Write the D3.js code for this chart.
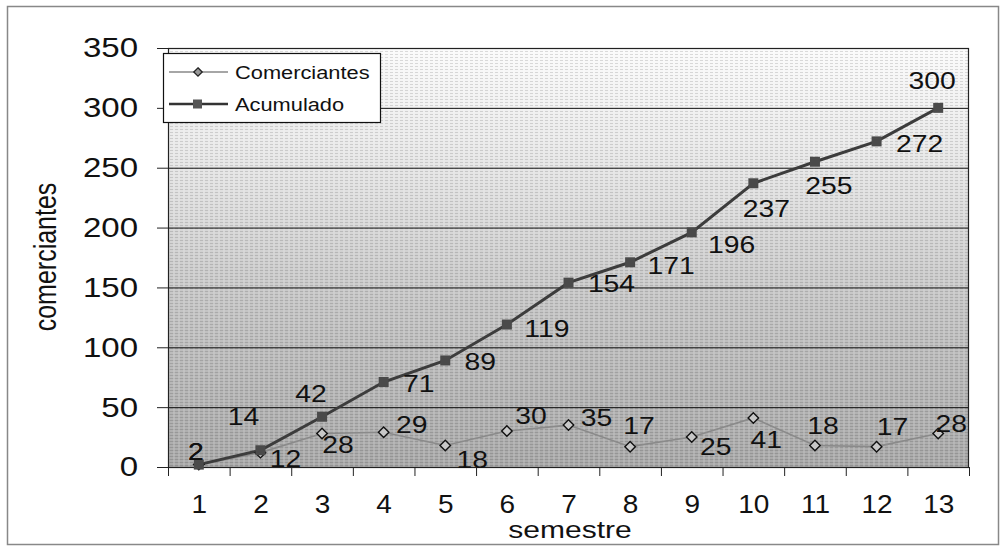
<!DOCTYPE html>
<html><head><meta charset="utf-8">
<script src="https://cdn.jsdelivr.net/npm/d3@7"></script>
<style>body{margin:0;background:#fff}svg{display:block}text{font-family:"Liberation Sans",Arial,sans-serif;fill:#111}</style>
</head><body>
<script>
const semestres = [1,2,3,4,5,6,7,8,9,10,11,12,13];
const comerciantes = [2,12,28,29,18,30,35,17,25,41,18,17,28];
const acumulado = [2,14,42,71,89,119,154,171,196,237,255,272,300];
const yTicks = [0,50,100,150,200,250,300,350];
const acumLabelOff = [[-3,-13],[-17,-34],[-11,-23],[35,1],[35,1],[40,4],[43,1],[41,3],[40,12],[13,25],[14,24],[43,2],[-6,-28]];
const comLabelOff = [[-3,-13],[25,6],[16,11],[28,-8],[27,14],[24,-16],[28,-8],[9,-21],[24,9],[13,21],[8,-20],[16,-20],[13,-10]];

const W=1005,H=550, SX=1.18;
const m={left:168,right:969,top:48,bottom:467};
const svg=d3.select("body").append("svg").attr("width",W).attr("height",H);
const defs=svg.append("defs");
const g1=defs.append("linearGradient").attr("id","bg").attr("x1",0).attr("y1",0).attr("x2",0).attr("y2",1);
[[0,"#fbfbfb"],[0.3,"#e4e4e4"],[0.6,"#c6c6c6"],[1,"#a9a9a9"]].forEach(s=>g1.append("stop").attr("offset",s[0]).attr("stop-color",s[1]));
const pat=defs.append("pattern").attr("id","tex").attr("width",5).attr("height",3).attr("patternUnits","userSpaceOnUse");
pat.append("rect").attr("x",0).attr("y",0).attr("width",3).attr("height",1).attr("fill","#000").attr("opacity",0.13);
pat.append("rect").attr("x",3).attr("y",1.5).attr("width",2).attr("height",1).attr("fill","#fff").attr("opacity",0.25);

// outer frame
svg.append("rect").attr("x",7.5).attr("y",6.5).attr("width",991).attr("height",538).attr("fill","none").attr("stroke","#888").attr("stroke-width",1.5);

const x=d3.scaleLinear().domain([0.5,13.5]).range([m.left,m.right]);
const y=d3.scaleLinear().domain([0,350]).range([m.bottom,m.top]);

svg.append("rect").attr("x",m.left).attr("y",m.top).attr("width",m.right-m.left).attr("height",m.bottom-m.top).attr("fill","url(#bg)");
svg.append("rect").attr("x",m.left).attr("y",m.top).attr("width",m.right-m.left).attr("height",m.bottom-m.top).attr("fill","url(#tex)");

// gridlines
svg.append("g").selectAll("line").data(yTicks).join("line")
  .attr("x1",m.left).attr("x2",m.right).attr("y1",d=>y(d)+0.5).attr("y2",d=>y(d)+0.5)
  .attr("stroke","#111").attr("stroke-width",1);
svg.append("rect").attr("x",m.left+0.5).attr("y",m.top+0.5).attr("width",m.right-m.left-1).attr("height",m.bottom-m.top).attr("fill","none").attr("stroke","#222").attr("stroke-width",1.2);

// y axis
const ya=svg.append("g").attr("transform",`translate(${m.left},0)`)
  .call(d3.axisLeft(y).tickValues(yTicks).tickSize(11).tickPadding(0));
ya.select(".domain").attr("stroke","#222");
ya.selectAll(".tick line").attr("stroke","#222");
ya.selectAll(".tick text").attr("x",-30/SX).attr("transform",`scale(${SX},1)`)
  .style("font-size","28px").attr("fill","#111");

// x axis ticks at boundaries
const boundaries=d3.range(0.5,14,1);
const xa=svg.append("g").attr("transform",`translate(0,${m.bottom})`)
  .call(d3.axisBottom(x).tickValues(boundaries).tickSize(9).tickFormat(""));
xa.select(".domain").attr("stroke","#222");
xa.selectAll(".tick line").attr("stroke","#222");
const xl=svg.append("g").attr("transform",`translate(0,${m.bottom})`)
  .call(d3.axisBottom(x).tickValues(semestres).tickSize(0));
xl.select(".domain").remove();
xl.selectAll(".tick text").attr("y",46/1).attr("dy",0).attr("transform",`scale(1.12,1)`)
  .style("font-size","25px").attr("fill","#111");

// axis titles
svg.append("text").attr("transform",`translate(570,538) scale(1.25,1)`).attr("text-anchor","middle")
  .style("font-size","24px").text("semestre");
svg.append("text").attr("transform",`translate(56,257) scale(${SX+0.05},1) rotate(-90)`).attr("text-anchor","middle")
  .style("font-size","25px").text("comerciantes");

// lines
const lineGen=d3.line().x((d,i)=>x(semestres[i])).y(d=>y(d));
svg.append("path").datum(comerciantes).attr("d",lineGen).attr("fill","none").attr("stroke","#8a8a8a").attr("stroke-width",1.6);
svg.append("path").datum(acumulado).attr("d",lineGen).attr("fill","none").attr("stroke","#3c3c3c").attr("stroke-width",3);

const diamond=d3.symbol().type(d3.symbolDiamond2).size(70);
svg.append("g").selectAll("path").data(comerciantes).join("path")
  .attr("transform",(d,i)=>`translate(${x(semestres[i])},${y(d)})`).attr("d",diamond)
  .attr("fill","#c8c8c8").attr("stroke","#111").attr("stroke-width",1.4);
svg.append("g").selectAll("rect").data(acumulado).join("rect")
  .attr("x",(d,i)=>x(semestres[i])-5).attr("y",d=>y(d)-5).attr("width",10).attr("height",10)
  .attr("fill","#4a4a4a");

// data labels
function labels(data,off){
  svg.append("g").selectAll("text").data(data).join("text")
    .attr("transform",(d,i)=>`translate(${x(semestres[i])+off[i][0]},${y(d)+off[i][1]}) scale(${SX},1)`)
    .attr("text-anchor","middle").attr("dy","0.36em").style("font-size","24px").text(d=>d);
}
labels(acumulado,acumLabelOff);
labels(comerciantes,comLabelOff);

// legend
const lg=svg.append("g");
lg.append("rect").attr("x",163.5).attr("y",53.5).attr("width",217).attr("height",69).attr("fill","#fff").attr("stroke","#111").attr("stroke-width",1.2);
const items=[{name:"Comerciantes",yy:72,type:"d"},{name:"Acumulado",yy:104,type:"s"}];
items.forEach(it=>{
  lg.append("line").attr("x1",169).attr("x2",228).attr("y1",it.yy).attr("y2",it.yy)
    .attr("stroke",it.type==="d"?"#888":"#333").attr("stroke-width",it.type==="d"?1.6:2.5);
  if(it.type==="d") lg.append("path").attr("transform",`translate(198,${it.yy})`).attr("d",d3.symbol().type(d3.symbolDiamond2).size(45)())
    .attr("fill","#999").attr("stroke","#222").attr("stroke-width",1.3);
  else lg.append("rect").attr("x",193).attr("y",it.yy-4.5).attr("width",9).attr("height",9).attr("fill","#555");
  lg.append("text").attr("transform",`translate(235,${it.yy+6.5}) scale(${SX},1)`).style("font-size","18.5px").text(it.name);
});
</script>
</body></html>
